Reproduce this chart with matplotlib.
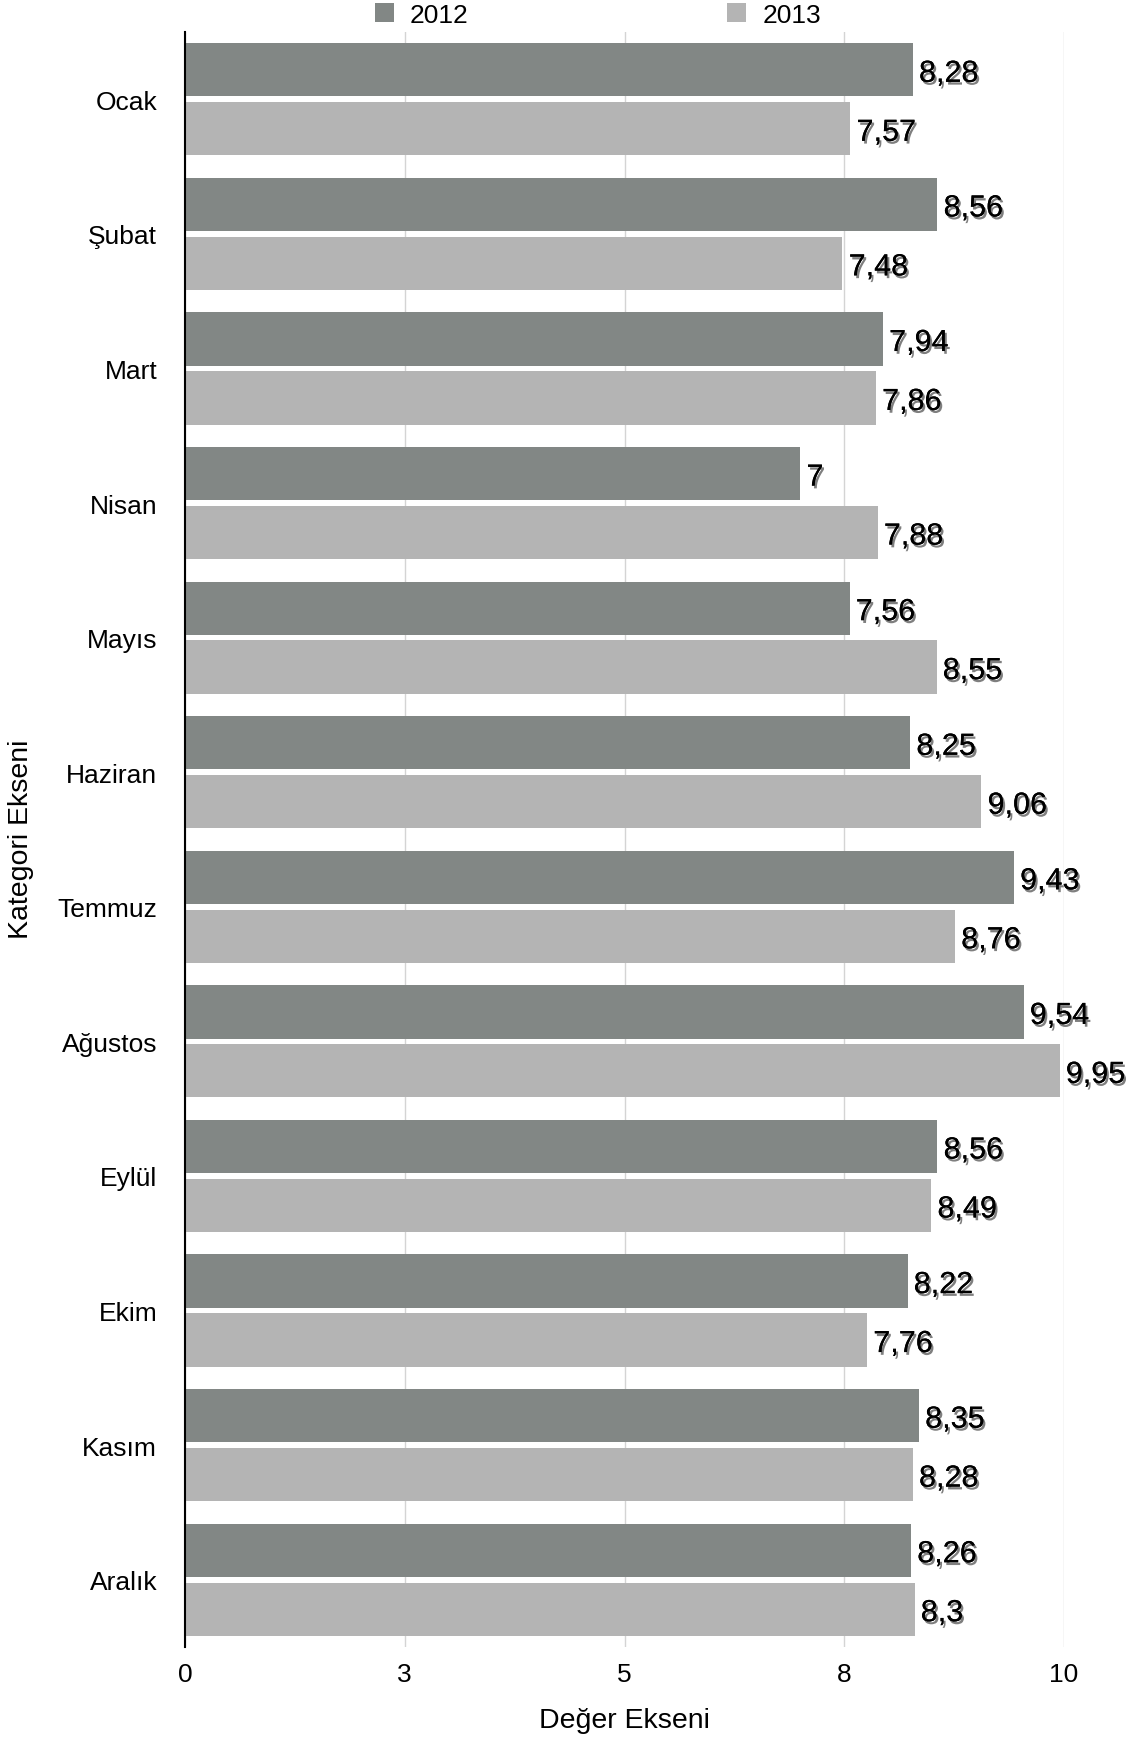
import matplotlib
matplotlib.use("Agg")
import matplotlib.pyplot as plt
import matplotlib.patheffects as pe
from matplotlib.patches import Patch
import numpy as np

plt.rcParams["font.family"] = ["Liberation Sans", "DejaVu Sans"]

months = ["Ocak", "Şubat", "Mart", "Nisan", "Mayıs", "Haziran",
          "Temmuz", "Ağustos", "Eylül", "Ekim", "Kasım", "Aralık"]
v2012 = [8.28, 8.56, 7.94, 7, 7.56, 8.25, 9.43, 9.54, 8.56, 8.22, 8.35, 8.26]
v2013 = [7.57, 7.48, 7.86, 7.88, 8.55, 9.06, 8.76, 9.95, 8.49, 7.76, 8.28, 8.3]
series = ["2012", "2013"]
xticks = [0, 2.5, 5, 7.5, 10]
xtick_labels = ["0", "3", "5", "8", "10"]

c2012 = "#828785"
c2013 = "#b4b4b4"

fig = plt.figure(figsize=(11.44, 17.40), dpi=100)
ax = fig.add_axes([185 / 1144, 1 - 1648 / 1740, (1064 - 185) / 1144, (1648 - 33) / 1740])

y = np.arange(len(months))
h = 0.396
off = 0.219
b1 = ax.barh(y - off, v2012, height=h, color=c2012, zorder=2)
b2 = ax.barh(y + off, v2013, height=h, color=c2013, zorder=2)

# value labels with a soft drop shadow
shadow = [pe.withSimplePatchShadow(offset=(1.5, -2), shadow_rgbFace="black", alpha=0.5), pe.Normal()]
for bars, vals in ((b1, v2012), (b2, v2013)):
    for bar, v in zip(bars, vals):
        txt = f"{v:g}".replace(".", ",")
        ax.text(v + 0.07, bar.get_y() + bar.get_height() / 2 + 0.03, txt,
                ha="left", va="center", fontsize=22, color="black",
                path_effects=shadow, clip_on=False, zorder=3)

ax.set_xlim(0, 10)
ax.set_ylim(len(months) - 0.5, -0.5)
ax.set_yticks(y)
ax.set_yticklabels(months, fontsize=19)
ax.set_xticks(xticks)
ax.set_xticklabels(xtick_labels, fontsize=19)
ax.tick_params(axis="y", length=0, pad=20)
ax.tick_params(axis="x", length=0, pad=11)
ax.grid(axis="x", color="#d4d4d4", linewidth=1, zorder=0)
ax.set_axisbelow(True)
for s in ("top", "right", "bottom"):
    ax.spines[s].set_visible(False)
ax.spines["left"].set_linewidth(1.5)
ax.spines["left"].set_color("black")
ax.spines["left"].set_zorder(4)

fig.text(624 / 1144, 1 - 1721 / 1740, "Değer Ekseni", ha="center", va="center", fontsize=20.5)
fig.text(21 / 1144, 1 - 839 / 1740, "Kategori Ekseni", ha="center", va="center",
         rotation=90, fontsize=20.5)

handles = [Patch(facecolor=c2012), Patch(facecolor=c2013)]
fig.legend(handles, series, loc="center", ncol=2, frameon=False, fontsize=19,
           bbox_to_anchor=(598 / 1144, 1 - 16 / 1740),
           handlelength=0.72, handleheight=0.72, handletextpad=0.6,
           columnspacing=9.8, borderaxespad=0, borderpad=0)

fig.savefig("out.png", dpi=100)
